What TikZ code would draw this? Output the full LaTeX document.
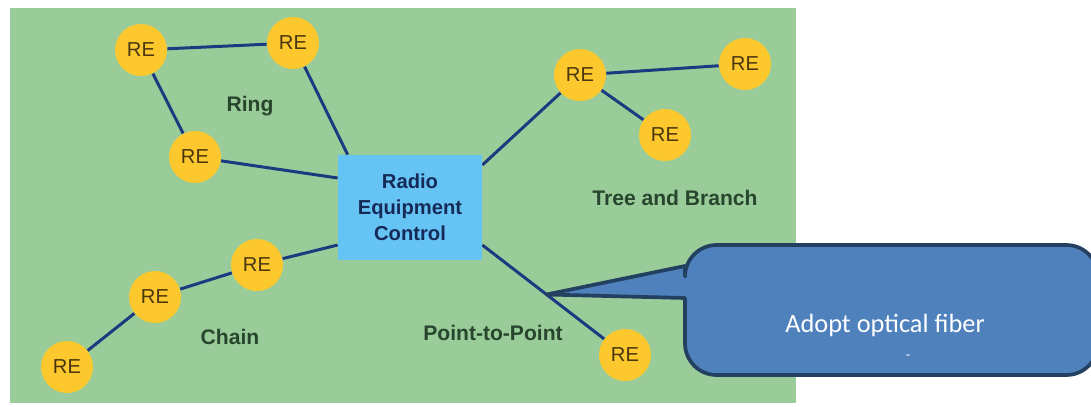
\documentclass[tikz,border=0pt]{standalone}
\usepackage{fontspec}
\setmainfont{Liberation Sans}
\newfontfamily\calloutfont{Carlito}
\usepackage{tikz}
\usetikzlibrary{positioning,calc,backgrounds}
\definecolor{fieldgreen}{RGB}{153,204,153}
\definecolor{reyellow}{RGB}{253,200,45}
\definecolor{retext}{RGB}{75,55,15}
\definecolor{ctrlblue}{RGB}{102,196,245}
\definecolor{ctrltext}{RGB}{22,42,88}
\definecolor{linkblue}{RGB}{28,58,128}
\definecolor{labelgreen}{RGB}{40,70,45}
\definecolor{calloutblue}{RGB}{79,129,189}
\definecolor{calloutedge}{RGB}{36,64,97}

\begin{document}
\begin{tikzpicture}[
    x=0.02cm, y=-0.02cm,
    every node/.style={font=\fontsize{11}{13}\selectfont},
    re/.style={circle, fill=reyellow, minimum size=1.04cm, inner sep=0pt, text=retext, font=\fontsize{11.5}{13}\selectfont},
    link/.style={draw=linkblue, line width=1.7pt},
    topo/.style={font=\bfseries\fontsize{12}{14}\selectfont, text=labelgreen}
]
\useasboundingbox (0,0) rectangle (1091,406);

% Control unit
\node[rectangle, fill=ctrlblue, minimum width=2.88cm, minimum height=2.1cm, align=center, text=ctrltext, font=\bfseries\fontsize{11.5}{14.8}\selectfont] (rec) at (410,207.5) {Radio\\Equipment\\Control};

% Ring
\node[re] (re1) at (141,50) {RE};
\node[re] (re2) at (293,43) {RE};
\node[re] (re3) at (195,157) {RE};
\node[topo] (ring) at (250,106) {Ring};

% Tree and branch
\node[re] (re4) at (580,75) {RE};
\node[re] (re5) at (745,64) {RE};
\node[re] (re6) at (665,135) {RE};
\node[topo] (tree) at (675,198) {Tree and Branch};

% Chain
\node[re] (re7) at (257,265) {RE};
\node[re] (re8) at (155,297) {RE};
\node[re] (re9) at (67,367) {RE};
\node[topo] (chain) at (230,337) {Chain};

% Point-to-point
\node[re] (re10) at (625,355) {RE};
\node[topo] (p2p) at (493,333) {Point-to-Point};

% Ports on the control box
\coordinate (recNW) at ($(rec.north west)+(10,0)$);
\coordinate (recWhi) at ($(rec.west)+(0,-29.5)$);
\coordinate (recWlo) at ($(rec.west)+(0,37.5)$);
\coordinate (recEhi) at ($(rec.east)+(0,-42.5)$);
\coordinate (recElo) at ($(rec.east)+(0,37.5)$);
\coordinate (tip) at ($(recElo)!0.45!(re10)$);

\begin{scope}[on background layer]
\fill[fieldgreen] (10,8) rectangle (796,403);
\draw[link] (re1) -- (re2);
\draw[link] (re1) -- (re3);
\draw[link] (re2) -- (recNW);
\draw[link] (re3) -- (recWhi);
\draw[link] (recEhi) -- (re4);
\draw[link] (re4) -- (re5);
\draw[link] (re4) -- (re6);
\draw[link] (recWlo) -- (re7);
\draw[link] (re7) -- (re8);
\draw[link] (re8) -- (re9);
\draw[link] (recElo) -- (re10);
\end{scope}

% Callout, cut at the right edge
\begin{scope}
\clip (0,0) rectangle (1091,406);
\draw[fill=calloutblue, draw=calloutedge, line width=2.1pt, line join=round] (tip) -- (685,266) [rounded corners=18pt] -- (685,245) -- (1098,245) -- (1098,375) -- (685,375) [sharp corners] -- (685,298) -- cycle;
\end{scope}
\node[font=\calloutfont\fontsize{15}{18}\selectfont, text=white] (fiber) at (885,325) {Adopt optical fiber};
\node[font=\calloutfont\fontsize{8}{9}\selectfont, text=white] (stray) at (908,357) {-};

\end{tikzpicture}
\end{document}
